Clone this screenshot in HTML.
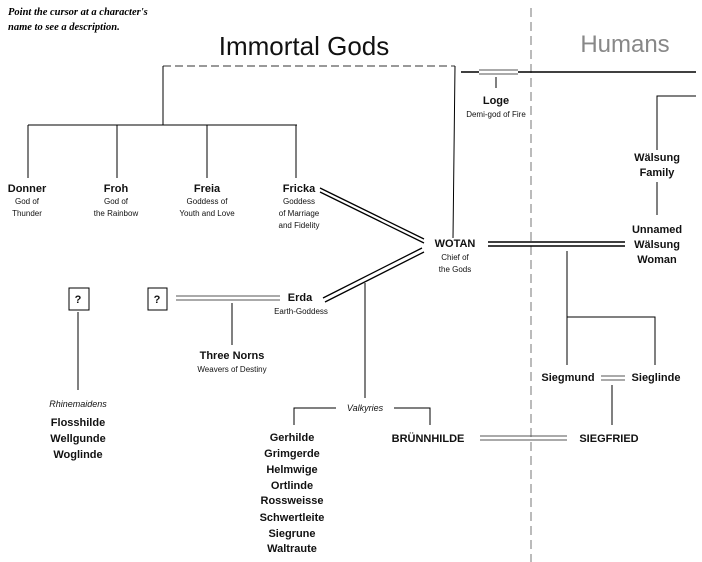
<!DOCTYPE html>
<html><head><meta charset="utf-8"><style>
html,body{margin:0;padding:0;background:#fff;}
svg{display:block;}
text{font-family:"Liberation Sans",sans-serif;fill:#111;}
.n{font-size:11px;font-weight:bold;text-anchor:middle;}
.s{font-size:8px;text-anchor:middle;}
.i{font-size:9px;font-style:italic;text-anchor:middle;}
</style></head><body>
<svg width="702" height="562" viewBox="0 0 702 562" xmlns="http://www.w3.org/2000/svg">
<g stroke="#000" fill="none" stroke-width="1">
<text x="8" y="15" style="font-family:'Liberation Serif',serif;font-size:10.5px;font-weight:bold;font-style:italic;fill:#000;stroke:none">Point the cursor at a character's</text>
<text x="8" y="30" style="font-family:'Liberation Serif',serif;font-size:10.5px;font-weight:bold;font-style:italic;fill:#000;stroke:none">name to see a description.</text>
<line x1="531" y1="8" x2="531" y2="562" stroke="#777" stroke-dasharray="9,5"/>
<path d="M163 66 H455" stroke-dasharray="8,4" stroke="#333"/>
<path d="M163 66 V125 M455 66 L453 238"/>
<path d="M28 125 H297 M28 125 V178 M117 125 V178 M207 125 V178 M296 125 V178"/>
<path d="M320 188 L424 239 M320 192 L424 243" stroke-width="1.3"/>
<path d="M488 242 H625 M488 246 H625" stroke-width="1.5"/>
<path d="M461 72 H479 M518 72 H696" stroke-width="1.6"/>
<path d="M479 70 H518 M479 74 H518" stroke="#555"/>
<path d="M496 77 V88"/>
<path d="M696 96 H657 V150 M657 182 V215"/>
<path d="M567 251 V365 M567 317 H655 V365"/>
<path d="M601 376 H625 M601 380 H625" stroke="#555"/>
<path d="M612 385 V425"/>
<path d="M480 436 H567 M480 440 H567" stroke="#555"/>
<path d="M323 298 L422 248 M325 302 L424 252" stroke-width="1.3"/>
<rect x="69" y="288" width="20" height="22"/>
<rect x="148" y="288" width="19" height="22"/>
<path d="M176 296 H280 M176 300 H280" stroke="#555"/>
<path d="M232 303 V345 M78 312 V390"/>
<path d="M365 283 V398 M294 425 V408 H336 M394 408 H430 V425"/>
</g>
<text x="304" y="55" style="font-size:26px;text-anchor:middle">Immortal Gods</text>
<text x="625" y="52" style="font-size:24px;text-anchor:middle;fill:#888">Humans</text>
<text x="78" y="303" class="n">?</text>
<text x="157" y="303" class="n">?</text>
<text class="n" x="27" y="192">Donner</text><text class="s" x="27" y="204">God of</text><text class="s" x="27" y="216">Thunder</text>
<text class="n" x="116" y="192">Froh</text><text class="s" x="116" y="204">God of</text><text class="s" x="116" y="216">the Rainbow</text>
<text class="n" x="207" y="192">Freia</text><text class="s" x="207" y="204">Goddess of</text><text class="s" x="207" y="216">Youth and Love</text>
<text class="n" x="299" y="192">Fricka</text><text class="s" x="299" y="204">Goddess</text><text class="s" x="299" y="216">of Marriage</text><text class="s" x="299" y="228">and Fidelity</text>
<text class="n" x="455" y="247">WOTAN</text><text class="s" x="455" y="260">Chief of</text><text class="s" x="455" y="272">the Gods</text>
<text class="n" x="496" y="104">Loge</text><text class="s" x="496" y="117">Demi-god of Fire</text>
<text class="n" x="657" y="161">Wälsung</text><text class="n" x="657" y="176">Family</text>
<text class="n" x="657" y="233">Unnamed</text><text class="n" x="657" y="248">Wälsung</text><text class="n" x="657" y="263">Woman</text>
<text class="n" x="568" y="381">Siegmund</text><text class="n" x="656" y="381">Sieglinde</text>
<text class="n" x="609" y="442">SIEGFRIED</text><text class="n" x="428" y="442">BRÜNNHILDE</text>
<text class="n" x="300" y="301">Erda</text><text class="s" x="301" y="314">Earth-Goddess</text>
<text class="n" x="232" y="359">Three Norns</text><text class="s" x="232" y="372">Weavers of Destiny</text>
<text class="i" x="78" y="407">Rhinemaidens</text>
<text class="n" x="78" y="426">Flosshilde</text><text class="n" x="78" y="442">Wellgunde</text><text class="n" x="78" y="458">Woglinde</text>
<text class="i" x="365" y="411">Valkyries</text>
<text class="n" x="292" y="441">Gerhilde</text><text class="n" x="292" y="457">Grimgerde</text><text class="n" x="292" y="473">Helmwige</text><text class="n" x="292" y="489">Ortlinde</text><text class="n" x="292" y="504">Rossweisse</text><text class="n" x="292" y="521">Schwertleite</text><text class="n" x="292" y="537">Siegrune</text><text class="n" x="292" y="552">Waltraute</text>
</svg>
</body></html>
